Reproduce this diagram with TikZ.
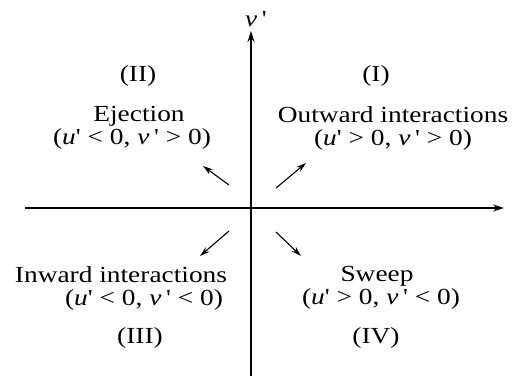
\documentclass[tikz,border=0pt]{standalone}
\usepackage{fontspec}
\usepackage{graphicx}
\setmainfont{Liberation Serif}
\usetikzlibrary{arrows.meta}
\newcommand{\wide}[1]{\scalebox{1.19}[1]{#1}}
\newcommand{\uu}{\textit{u}\textquotesingle}
\newcommand{\vv}{\textit{v}\,\textquotesingle}
\begin{document}
\begin{tikzpicture}[x=1pt,y=-1pt,
  txt/.style={inner sep=0pt, font=\fontsize{23}{23}\selectfont},
  pair/.style={txt, align=center},
  axis/.style={line width=1.2pt, -{Stealth[length=11pt,width=7pt]}},
  qarrow/.style={line width=1.1pt, -{Stealth[length=10pt,width=6pt]}}]
\useasboundingbox (0,0) rectangle (513,378);
% axes
\coordinate (xl) at (25,208);
\coordinate (xr) at (504,208);
\coordinate (yb) at (251,376);
\coordinate (yt) at (251,31);
\draw[axis] (xl) -- (xr);
\draw[axis] (yb) -- (yt);
\node[txt] (vlab) at (256,19) {\wide{\vv}};
% quadrant labels
\node[txt] (q2) at (138,76) {\wide{(II)}};
\node[txt] (q1) at (376,76) {\wide{(I)}};
\node[txt] (q3) at (140,338) {\wide{(III)}};
\node[txt] (q4) at (376,338) {\wide{(IV)}};
\node[pair] (ej) at (132,128) {\hspace*{14pt}\wide{Ejection}\\\wide{(\uu\ < 0, \vv\ > 0)}};
\node[pair] (ou) at (393,128) {\wide{Outward interactions}\\\wide{(\uu\ > 0, \vv\ > 0)}};
\node[pair] (in) at (121,288) {\wide{Inward interactions}\\\hspace*{46pt}\wide{(\uu\ < 0, \vv\ < 0)}};
\node[pair] (sw) at (381,288) {\wide{Sweep}\hspace*{8pt}\\\wide{(\uu\ > 0, \vv\ < 0)}};
% direction arrows
\coordinate (a2s) at (229,185); \coordinate (a2e) at (203,166);
\coordinate (a1s) at (276,188); \coordinate (a1e) at (306,163);
\coordinate (a3s) at (229,231); \coordinate (a3e) at (200,256);
\coordinate (a4s) at (276,232); \coordinate (a4e) at (301,256);
\draw[qarrow] (a2s) -- (a2e);
\draw[qarrow] (a1s) -- (a1e);
\draw[qarrow] (a3s) -- (a3e);
\draw[qarrow] (a4s) -- (a4e);
\end{tikzpicture}
\end{document}
